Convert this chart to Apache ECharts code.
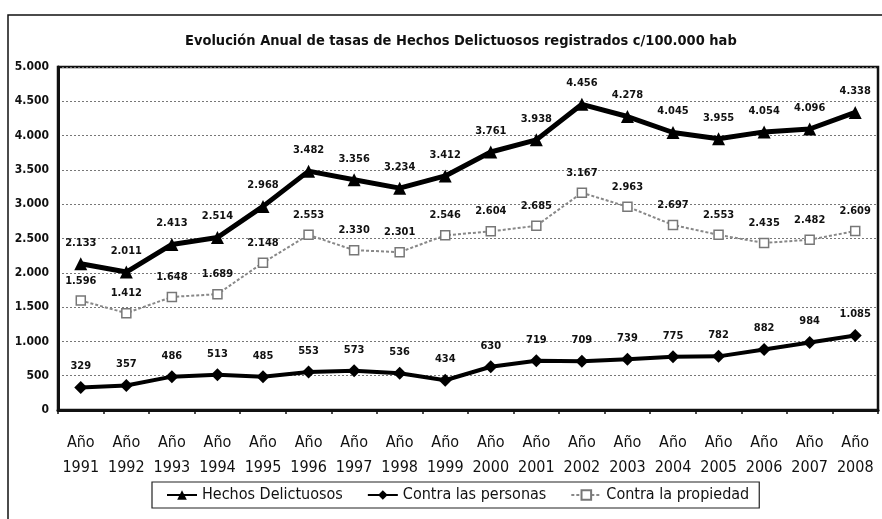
<!DOCTYPE html>
<html>
<head>
<meta charset="utf-8">
<title>Evolución Anual de tasas de Hechos Delictuosos</title>
<script src="https://cdn.jsdelivr.net/npm/echarts@6/dist/echarts.min.js"></script>
<style>
  html, body { margin: 0; padding: 0; background: #fff; }
  #chart { width: 882px; height: 519px; }
</style>
</head>
<body>
<div id="chart"></div>
<script>
const years = ['1991', '1992', '1993', '1994', '1995', '1996', '1997', '1998', '1999',
  '2000', '2001', '2002', '2003', '2004', '2005', '2006', '2007', '2008'];

const hechos = [2133, 2011, 2413, 2514, 2968, 3482, 3356, 3234, 3412,
  3761, 3938, 4456, 4278, 4045, 3955, 4054, 4096, 4338];
const personas = [329, 357, 486, 513, 485, 553, 573, 536, 434,
  630, 719, 709, 739, 775, 782, 882, 984, 1085];
const propiedad = [1596, 1412, 1648, 1689, 2148, 2553, 2330, 2301, 2546,
  2604, 2685, 3167, 2963, 2697, 2553, 2435, 2482, 2609];

const FONT = '"DejaVu Sans Condensed", "Liberation Sans Narrow", "Arial Narrow", sans-serif';

// numbers with dot as thousands separator (es)
function fmt(v) {
  return String(v).replace(/\B(?=(\d{3})+(?!\d))/g, '.');
}

var chart = echarts.init(document.getElementById('chart'));

var labelStyle = {
  show: true,
  position: 'top',
  distance: 9,
  fontFamily: FONT,
  fontSize: 11,
  fontWeight: 'bold',
  color: '#111',
  formatter: (p) => fmt(p.value)
};

var option = {
  backgroundColor: '#fff',
  animation: false,
  title: {
    text: 'Evolución Anual de tasas de Hechos Delictuosos registrados c/100.000 hab',
    left: 180,
    top: 29,
    textStyle: { fontFamily: FONT, fontSize: 14.5, fontWeight: 'bold', color: '#111' }
  },
  graphic: [
    {
      type: 'rect',
      shape: { x: 8, y: 15, width: 900, height: 600 },
      style: { fill: 'none', stroke: '#111', lineWidth: 1.5 },
      silent: true
    }
  ],
  legend: {
    left: 152,
    top: 482,
    padding: [5, 10, 5, 14],
    itemGap: 24,
    itemWidth: 30,
    itemHeight: 12,
    borderColor: '#222',
    borderWidth: 1.2,
    textStyle: { fontFamily: FONT, fontSize: 16, color: '#111' },
    data: ['Hechos Delictuosos', 'Contra las personas', 'Contra la propiedad']
  },
  grid: {
    left: 58,
    right: 4,
    top: 67,
    bottom: 109,
    show: true,
    borderColor: '#111',
    borderWidth: 2.5
  },
  xAxis: {
    type: 'category',
    data: years,
    boundaryGap: true,
    axisLine: { lineStyle: { color: '#111', width: 3 } },
    axisTick: { show: true, length: 4, lineStyle: { color: '#111', width: 1.5 } },
    axisLabel: {
      interval: 0,
      margin: 20,
      fontFamily: FONT,
      fontSize: 16,
      lineHeight: 25,
      color: '#111',
      formatter: (v) => 'Año\n' + v
    }
  },
  yAxis: {
    type: 'value',
    min: 0,
    max: 5000,
    interval: 500,
    axisLine: { show: true, lineStyle: { color: '#111', width: 3 } },
    axisTick: { show: false },
    axisLabel: {
      margin: 9,
      fontFamily: FONT,
      fontSize: 12,
      fontWeight: 'bold',
      color: '#111',
      formatter: (v) => fmt(v)
    },
    splitLine: { lineStyle: { color: '#777', width: 1, type: [2, 2] } }
  },
  series: [
    {
      name: 'Hechos Delictuosos',
      type: 'line',
      data: hechos,
      symbol: 'triangle',
      symbolSize: 13,
      lineStyle: { color: '#000', width: 5 },
      itemStyle: { color: '#000' },
      label: labelStyle,
      z: 4
    },
    {
      name: 'Contra las personas',
      type: 'line',
      data: personas,
      symbol: 'diamond',
      symbolSize: 13,
      lineStyle: { color: '#000', width: 4 },
      itemStyle: { color: '#000' },
      label: labelStyle,
      z: 3
    },
    {
      name: 'Contra la propiedad',
      type: 'line',
      data: propiedad,
      symbol: 'rect',
      symbolSize: 9,
      lineStyle: { color: '#888', width: 2, type: [3, 2] },
      itemStyle: { color: '#fff', borderColor: '#777', borderWidth: 1.5 },
      label: labelStyle,
      z: 2
    }
  ]
};

chart.setOption(option);
</script>
</body>
</html>
